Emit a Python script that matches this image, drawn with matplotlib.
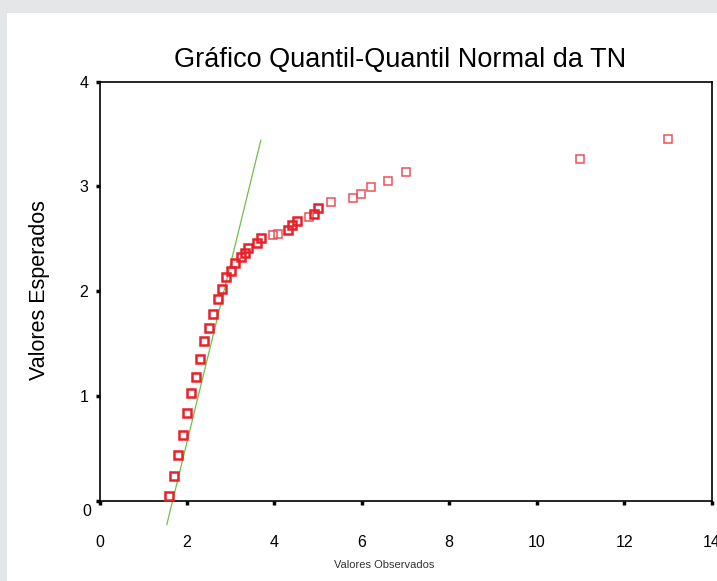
import matplotlib
matplotlib.use("Agg")
import matplotlib.pyplot as plt
from matplotlib.patches import Rectangle

plt.rcParams['font.family'] = ['Liberation Sans', 'DejaVu Sans']

# observed values (x) and expected normal values (y)
observed = [1.6, 1.7, 1.8, 1.9, 2.0, 2.1, 2.2, 2.3, 2.4, 2.5, 2.6, 2.7, 2.8, 2.9,
            3.0, 3.1, 3.24, 3.33, 3.39, 3.6, 3.7, 3.98, 4.09, 4.31, 4.41, 4.51,
            4.79, 4.9, 5.0, 5.29, 5.79, 5.99, 6.21, 6.6, 7.01, 11.0, 13.0]
expected = [0.04, 0.23, 0.43, 0.63, 0.84, 1.03, 1.18, 1.35, 1.52, 1.65, 1.78, 1.92, 2.02, 2.13,
            2.19, 2.27, 2.33, 2.36, 2.41, 2.46, 2.51, 2.54, 2.55, 2.58, 2.63, 2.67,
            2.71, 2.74, 2.79, 2.85, 2.89, 2.93, 2.99, 3.05, 3.14, 3.26, 3.45]
# bold markers = repeated observations
repeated = [1, 1, 1, 1, 1, 1, 1, 1, 1, 1, 1, 1, 1, 1,
            1, 1, 1, 1, 1, 1, 1, 0, 0, 1, 1, 1,
            0, 1, 1, 0, 0, 0, 0, 0, 0, 0, 0]

# reference line
line_x = [1.54, 3.69]
line_y = [-0.23, 3.44]

xticks = [0, 2, 4, 6, 8, 10, 12, 14]
yticks = [0, 1, 2, 3, 4]

fig = plt.figure(figsize=(7.17, 5.81), dpi=100)
fig.patch.set_facecolor("#e4e6e8")
fig.patches.append(Rectangle((7 / 717, 0), 1, 1 - 13 / 581, transform=fig.transFigure,
                             facecolor="white", edgecolor="none", zorder=-1))

ax = fig.add_axes([99.5 / 717, 80.5 / 581, 612 / 717, 418.8 / 581])
ax.set_xlim(0, 14)
ax.set_ylim(0, 4)

ax.plot(line_x, line_y, color="#6cc04a", lw=0.9, clip_on=False, zorder=2)

for x, y, r in zip(observed, expected, repeated):
    ax.plot(x, y, marker="s", ms=5.6, mfc="none",
            mec="#e8202a" if r else "#ee5058", mew=1.8 if r else 1.1,
            ls="none", clip_on=False, zorder=3)

for s in ax.spines.values():
    s.set_linewidth(1.2)

ax.set_xticks(xticks)
ax.set_yticks(yticks)
ax.set_xticklabels([str(t) for t in xticks])
ax.set_yticklabels(["" if t == 0 else str(t) for t in yticks])
ax.tick_params(axis="x", direction="out", length=3, width=2.5, labelsize=11.5, pad=22)
ax.tick_params(axis="y", direction="out", length=3, width=2.5, labelsize=11.5, pad=5)
ax.annotate("0", xy=(0, 0), xycoords=ax.get_yaxis_transform(),
            xytext=(-8, -4), textcoords="offset pixels",
            ha="right", va="top", fontsize=11.5)

fig.text(400 / 717, 1 - 60 / 581, "Gráfico Quantil-Quantil Normal da TN",
         ha="center", va="center", fontsize=19.5)
fig.text(40 / 717, 1 - 290 / 581, "Valores Esperados", rotation=90,
         ha="center", va="center", fontsize=15.5)
fig.text(384 / 717, 1 - 565 / 581, "Valores Observados",
         ha="center", va="center", fontsize=8, color="#333333")

fig.savefig("out.png", dpi=100)
